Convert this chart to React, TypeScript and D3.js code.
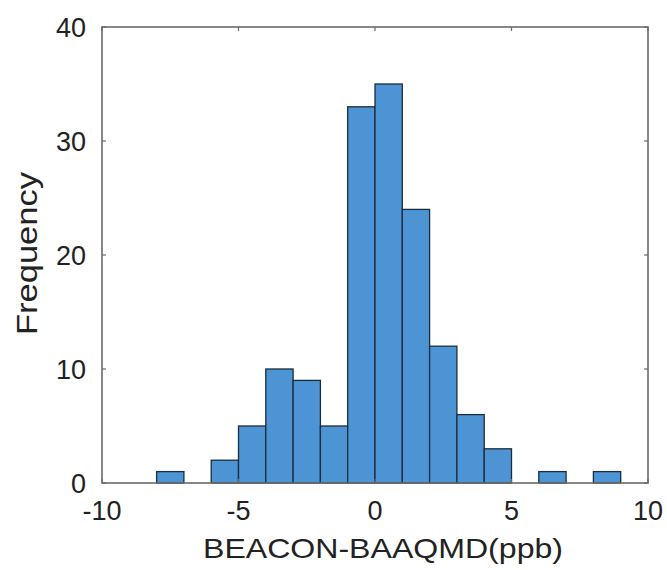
import React from "react";
import * as d3 from "d3";

const binStarts = [-8, -7, -6, -5, -4, -3, -2, -1, 0, 1, 2, 3, 4, 5, 6, 7, 8];
const counts = [1, 0, 2, 5, 10, 9, 5, 33, 35, 24, 12, 6, 3, 0, 1, 0, 1];
const binWidth = 1;
const xTicks = [-10, -5, 0, 5, 10];
const yTicks = [0, 10, 20, 30, 40];
const xLabel = "BEACON-BAAQMD(ppb)";
const yLabel = "Frequency";

const W = 667;
const H = 570;
const M = { left: 102, right: 19, top: 27, bottom: 87 };

export default function App() {
  const x = d3.scaleLinear().domain([-10, 10]).range([M.left, W - M.right]);
  const y = d3.scaleLinear().domain([0, 40]).range([H - M.bottom, M.top]);
  const font = "'Liberation Sans', Arial, Helvetica, sans-serif";
  const axisColor = "#6b6b6b";
  const tickLen = 4;
  const bars = binStarts
    .map((s, i) => ({ s, c: counts[i] }))
    .filter((d) => d.c > 0);
  return (
    <svg
      width={W}
      height={H}
      style={{ position: "absolute", left: 0, top: 0, background: "#fff" }}
    >
      <rect x={0} y={0} width={W} height={H} fill="#fff" />
      {bars.map((d) => (
        <rect
          key={d.s}
          x={x(d.s)}
          y={y(d.c)}
          width={x(d.s + binWidth) - x(d.s)}
          height={y(0) - y(d.c)}
          fill="#4d94d4"
          stroke="#1c2c3c"
          strokeWidth={1.3}
        />
      ))}
      {xTicks.map((t) => (
        <g key={"xt" + t}>
          <line x1={x(t)} x2={x(t)} y1={y(0)} y2={y(0) - tickLen} stroke={axisColor} strokeWidth={1.2} />
          <line x1={x(t)} x2={x(t)} y1={y(40)} y2={y(40) + tickLen} stroke={axisColor} strokeWidth={1.2} />
          <text
            x={x(t)}
            y={520}
            textAnchor="middle"
            fontFamily={font}
            fontSize={27}
            fill="#222"
          >
            {t}
          </text>
        </g>
      ))}
      {yTicks.map((t) => (
        <g key={"yt" + t}>
          <line x1={x(-10)} x2={x(-10) + tickLen} y1={y(t)} y2={y(t)} stroke={axisColor} strokeWidth={1.2} />
          <line x1={x(10)} x2={x(10) - tickLen} y1={y(t)} y2={y(t)} stroke={axisColor} strokeWidth={1.2} />
          <text
            x={86}
            y={y(t) + 10}
            textAnchor="end"
            fontFamily={font}
            fontSize={27}
            fill="#222"
          >
            {t}
          </text>
        </g>
      ))}
      <rect
        x={x(-10)}
        y={y(40)}
        width={x(10) - x(-10)}
        height={y(0) - y(40)}
        fill="none"
        stroke={axisColor}
        strokeWidth={1.6}
      />
      <text
        x={203}
        y={558}
        textAnchor="start"
        fontFamily={font}
        fontSize={28}
        textLength={360}
        lengthAdjust="spacingAndGlyphs"
        fill="#222"
      >
        {xLabel}
      </text>
      <text
        transform={`translate(37, 335) rotate(-90)`}
        textAnchor="start"
        fontFamily={font}
        fontSize={30}
        textLength={163}
        lengthAdjust="spacingAndGlyphs"
        fill="#222"
      >
        {yLabel}
      </text>
    </svg>
  );
}
